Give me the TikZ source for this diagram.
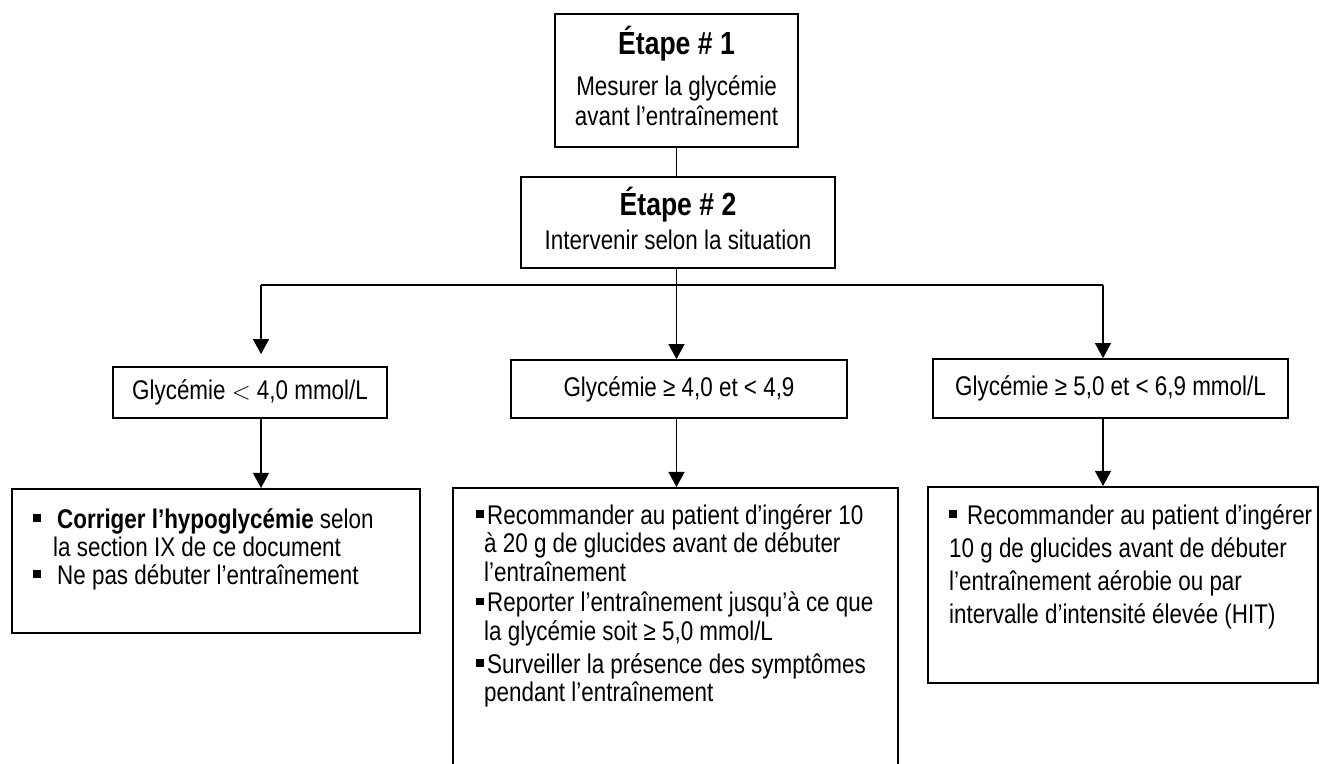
\documentclass[tikz,border=0pt]{standalone}
\usepackage{fontspec}
\setmainfont[FakeStretch=0.83]{Liberation Sans}
\usetikzlibrary{arrows.meta, positioning}

\newcommand{\bul}[1]{\makebox[#1][l]{\rule[6.5pt]{7.5pt}{7.5pt}}}

\begin{document}
\begin{tikzpicture}[
        line join=miter,
        every node/.append style={font=\fontsize{27pt}{30pt}\selectfont},
        stepbox/.style={draw=black, line width=1.6pt, align=center, inner sep=0pt},
        condbox/.style={draw=black, line width=1.8pt, inner sep=0pt},
        resbox/.style={draw=black, line width=1.8pt, anchor=north west, inner sep=0pt},
        restext/.style={align=left, inner sep=0pt},
        link/.style={line width=1.2pt},
        arrow/.style={line width=1.2pt, -{Triangle[width=16pt,length=15pt]}}
        ]
        \useasboundingbox (0pt,0pt) rectangle (1322pt,763pt);

        %% Steps
        \node[stepbox, minimum width=243pt, minimum height=133pt] (etape1) at (676.5pt,682.5pt)
            {{\fontsize{32pt}{30pt}\selectfont\bfseries Étape \# 1}\\[11pt] Mesurer la glycémie\\ avant l’entraînement\strut};
        \node[stepbox, minimum width=314pt, minimum height=91pt] (etape2) at (678pt,540.5pt)
            {{\fontsize{32pt}{30pt}\selectfont\bfseries Étape \# 2}\\[4pt] Intervenir selon la situation\strut};

        %% Split
        \coordinate (split) at (676.5pt,478pt);
        \coordinate (left) at (261pt,478pt);
        \coordinate (right) at (1103pt,478pt);
        \draw[link] (etape1.south) -- (etape1.south |- etape2.north);
        \draw[link] (etape2.south -| split) -- (split);
        \draw[link] (left) -- (right);

        %% Conditions
        \node[condbox, minimum width=274pt, minimum height=51pt] (cond1) at (250pt,370.5pt) {Glycémie $<$ 4,0 mmol/L};
        \node[condbox, minimum width=336pt, minimum height=58pt] (cond2) at (679pt,374pt) {Glycémie ≥ 4,0 et < 4,9};
        \node[condbox, minimum width=355pt, minimum height=59pt] (cond3) at (1110.5pt,374.5pt) {Glycémie ≥ 5,0 et < 6,9 mmol/L};

        \draw[arrow, shorten >=12pt] (left) -- (cond1.north -| left);
        \draw[arrow] (split) -- (cond2.north -| split);
        \draw[arrow] (right) -- (cond3.north -| right);

        %% Actions
        \node[resbox, minimum width=408pt, minimum height=144pt] (res1) at (11pt,275pt) {};
        \node[resbox, minimum width=445pt, minimum height=300pt] (res2) at (452pt,276pt) {};
        \node[resbox, minimum width=390pt, minimum height=196pt] (res3) at (927pt,277pt) {};

        \draw[arrow] (cond1.south -| left) -- (res1.north -| left);
        \draw[arrow] (cond2.south -| split) -- (res2.north -| split);
        \draw[arrow] (cond3.south -| right) -- (res3.north -| right);

        \node[restext, font=\fontsize{27pt}{28pt}\selectfont, below right=20pt and 22pt of res1.north west] (res1text)
            {\strut\bul{24pt}\textbf{Corriger l’hypoglycémie} selon\\
             \hspace*{20pt}la section IX de ce document\\
             \bul{24pt}Ne pas débuter l’entraînement};
        \node[restext, font=\fontsize{27pt}{28.5pt}\selectfont, below right=17pt and 24pt of res2.north west] (res2text)
            {\strut\bul{11pt}Recommander au patient d’ingérer 10\\
             \hspace*{8pt}à 20 g de glucides avant de débuter\\
             \hspace*{8pt}l’entraînement\\[2pt]
             \bul{11pt}Reporter l’entraînement jusqu’à ce que\\
             \hspace*{8pt}la glycémie soit ≥ 5,0 mmol/L\\[4.5pt]
             \bul{11pt}Surveiller la présence des symptômes\\
             \hspace*{8pt}pendant l’entraînement};
        \node[restext, font=\fontsize{27pt}{33pt}\selectfont, below right=15pt and 22pt of res3.north west] (res3text)
            {\strut\bul{18pt}Recommander au patient d’ingérer\\
             10 g de glucides avant de débuter\\
             l’entraînement aérobie ou par\\
             intervalle d’intensité élevée (HIT)};
\end{tikzpicture}
\end{document}
